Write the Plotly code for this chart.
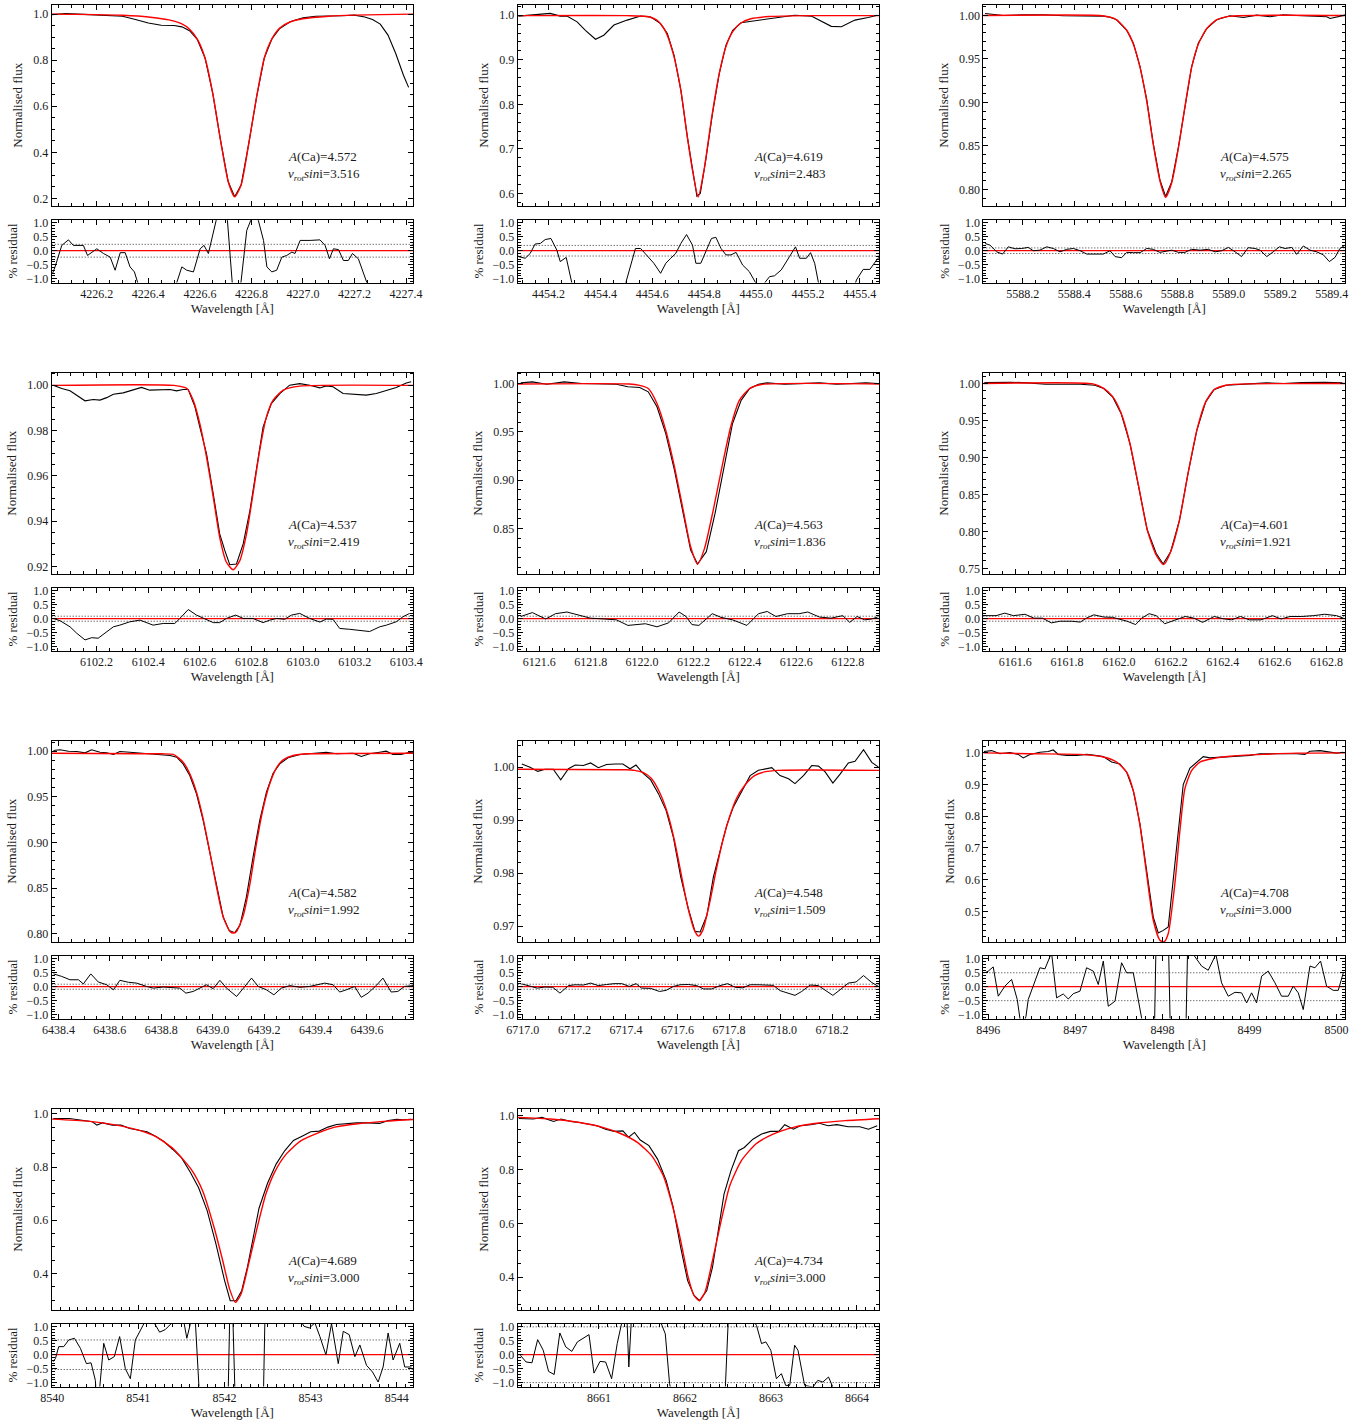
import plotly.graph_objects as go

# ---------------- data ----------------
# Panel 1 : Ca I 4226
P1_OBS = [(4226.025,0.998),(4226.08,1.003),(4226.15,0.999),(4226.25,0.993),(4226.30,0.991),(4226.35,0.977),
          (4226.40,0.962),(4226.45,0.952),(4226.50,0.951),(4226.53,0.945),(4226.56,0.928),(4226.59,0.890),
          (4226.62,0.810),(4226.65,0.656),(4226.68,0.453),(4226.71,0.272),(4226.735,0.207),(4226.76,0.258),
          (4226.79,0.440),(4226.82,0.640),(4226.85,0.810),(4226.88,0.894),(4226.91,0.938),(4226.95,0.967),
          (4227.00,0.984),(4227.05,0.991),(4227.10,0.991),(4227.15,0.993),(4227.20,0.996),(4227.24,0.988),
          (4227.27,0.977),(4227.30,0.957),(4227.33,0.909),(4227.36,0.829),(4227.39,0.735),(4227.41,0.682)]
P1_MOD = [(4226.025,1.0),(4226.2,0.998),(4226.3,0.995),(4226.4,0.988),(4226.48,0.975),(4226.53,0.958),
          (4226.56,0.935),(4226.59,0.892),(4226.62,0.81),(4226.65,0.656),(4226.68,0.453),(4226.71,0.272),
          (4226.735,0.207),(4226.76,0.258),(4226.79,0.44),(4226.82,0.64),(4226.85,0.81),(4226.88,0.894),
          (4226.91,0.94),(4226.95,0.966),(4227.0,0.98),(4227.1,0.991),(4227.2,0.996),(4227.3,0.998),(4227.427,1.0)]
P1_RES = [(4226.028,-0.82),(4226.038,-0.58),(4226.064,0.19),(4226.090,0.39),(4226.109,0.19),(4226.148,0.19),
          (4226.164,-0.17),(4226.200,0.07),(4226.226,-0.10),(4226.252,-0.23),(4226.271,-0.70),(4226.291,-0.07),
          (4226.310,-0.07),(4226.329,-0.58),(4226.346,-0.76),(4226.37,-1.6),(4226.42,-3.0),(4226.47,-3.5),
          (4226.50,-2.0),(4226.510,-1.15),(4226.530,-0.58),(4226.549,-0.70),(4226.575,-0.76),(4226.601,0.07),
          (4226.616,0.19),(4226.633,-0.10),(4226.650,0.60),(4226.663,1.08),(4226.68,2.5),(4226.70,1.5),
          (4226.707,1.08),(4226.726,-1.2),(4226.74,-3.0),(4226.759,-1.17),(4226.782,0.73),(4226.797,1.08),
          (4226.81,1.8),(4226.827,1.08),(4226.847,0.37),(4226.860,-0.58),(4226.879,-0.76),(4226.898,-0.70),
          (4226.918,-0.23),(4226.937,-0.17),(4226.957,-0.05),(4226.969,-0.10),(4226.989,0.37),(4227.028,0.37),
          (4227.066,0.39),(4227.086,0.19),(4227.103,-0.29),(4227.118,0.07),(4227.138,0.04),(4227.157,-0.35),
          (4227.176,-0.35),(4227.192,-0.10),(4227.215,-0.29),(4227.247,-1.12),(4227.28,-2.5),(4227.35,-8.0),
          (4227.43,-30.0)]

# Panel 2 : Ca I 4454
P2_OBS = [(4454.084,0.998),(4454.142,1.001),(4454.206,1.004),(4454.245,0.998),(4454.271,0.998),(4454.31,0.985),
          (4454.342,0.966),(4454.381,0.946),(4454.413,0.955),(4454.452,0.978),(4454.503,0.989),(4454.555,0.998),
          (4454.594,0.996),(4454.632,0.981),(4454.658,0.959),(4454.684,0.91),(4454.71,0.832),(4454.735,0.727),
          (4454.755,0.652),(4454.772,0.594),(4454.785,0.6),(4454.806,0.675),(4454.832,0.779),(4454.858,0.869),
          (4454.884,0.933),(4454.91,0.966),(4454.942,0.983),(4454.994,0.987),(4455.071,0.993),(4455.148,1.0),
          (4455.213,0.998),(4455.252,0.987),(4455.29,0.975),(4455.329,0.974),(4455.381,0.989),(4455.432,0.995),
          (4455.468,1.0)]
P2_MOD = [(4454.081,0.999),(4454.5,0.999),(4454.58,0.997),(4454.62,0.988),(4454.65,0.965),(4454.68,0.915),
          (4454.71,0.832),(4454.735,0.727),(4454.755,0.652),(4454.777,0.592),(4454.80,0.655),(4454.83,0.775),
          (4454.858,0.869),(4454.884,0.93),(4454.91,0.963),(4454.94,0.982),(4454.98,0.992),(4455.05,0.997),
          (4455.2,0.999),(4455.474,0.999)]
P2_RES = [(4454.084,-0.21),(4454.110,-0.27),(4454.129,-0.10),(4454.148,0.24),(4454.168,0.26),(4454.187,0.40),
          (4454.209,0.44),(4454.232,0.02),(4454.245,-0.39),(4454.268,-0.24),(4454.290,-1.17),(4454.33,-2.5),
          (4454.38,-5.0),(4454.43,-4.0),(4454.47,-2.0),(4454.499,-1.11),(4454.516,-0.57),(4454.535,0.08),
          (4454.555,0.08),(4454.581,-0.21),(4454.606,-0.45),(4454.632,-0.81),(4454.652,-0.45),(4454.671,-0.27),
          (4454.690,-0.10),(4454.710,0.26),(4454.732,0.58),(4454.755,0.20),(4454.768,-0.45),(4454.787,-0.45),
          (4454.806,-0.04),(4454.828,0.44),(4454.845,0.48),(4454.865,0.08),(4454.884,-0.15),(4454.903,-0.15),
          (4454.923,-0.06),(4454.948,-0.51),(4454.974,-0.75),(4454.994,-1.11),(4455.02,-1.5),(4455.035,-1.13),
          (4455.052,-0.93),(4455.071,-0.90),(4455.097,-0.69),(4455.129,-0.21),(4455.152,0.14),(4455.168,-0.27),
          (4455.194,-0.27),(4455.210,-0.07),(4455.226,-0.45),(4455.241,-1.17),(4455.29,-2.5),(4455.33,-2.8),
          (4455.37,-1.6),(4455.387,-1.05),(4455.413,-0.67),(4455.439,-0.67),(4455.465,-0.33),(4455.477,-0.21)]

# Panel 3 : Ca I 5588
P3_OBS = [(5588.054,1.0023),(5588.125,1.0),(5588.203,1.0008),(5588.28,1.0008),(5588.358,0.9996),(5588.436,0.9992),
          (5588.513,0.9992),(5588.539,0.998),(5588.565,0.995),(5588.604,0.983),(5588.63,0.968),(5588.656,0.941),
          (5588.682,0.903),(5588.707,0.853),(5588.733,0.811),(5588.755,0.792),(5588.779,0.809),(5588.805,0.849),
          (5588.83,0.895),(5588.856,0.941),(5588.882,0.968),(5588.915,0.985),(5588.953,0.995),(5589.005,0.9996),
          (5589.057,0.9977),(5589.109,1.0004),(5589.161,0.9985),(5589.212,1.0008),(5589.264,1.0),(5589.316,0.9992),
          (5589.381,0.9985),(5589.394,0.9966),(5589.426,0.9985),(5589.452,1.0004)]
P3_MOD = [(5588.047,1.0),(5588.5,1.0),(5588.54,0.998),(5588.565,0.995),(5588.604,0.983),(5588.63,0.967),
          (5588.656,0.94),(5588.682,0.901),(5588.707,0.852),(5588.733,0.810),(5588.755,0.791),(5588.779,0.808),
          (5588.805,0.848),(5588.83,0.895),(5588.856,0.94),(5588.882,0.967),(5588.915,0.985),(5588.953,0.995),
          (5589.0,0.999),(5589.453,1.0)]
P3_RES = [(5588.054,0.26),(5588.073,0.20),(5588.099,-0.04),(5588.122,-0.12),(5588.144,0.14),(5588.170,0.07),
          (5588.196,0.08),(5588.222,0.12),(5588.241,0.0),(5588.267,0.02),(5588.293,0.14),(5588.319,0.08),
          (5588.345,-0.04),(5588.371,0.05),(5588.397,0.08),(5588.423,0.0),(5588.449,-0.12),(5588.474,-0.12),
          (5588.513,-0.12),(5588.539,0.0),(5588.559,-0.21),(5588.584,-0.25),(5588.604,-0.06),(5588.630,-0.07),
          (5588.656,-0.07),(5588.682,0.08),(5588.707,0.05),(5588.733,-0.06),(5588.759,-0.02),(5588.779,0.02),
          (5588.805,-0.06),(5588.830,-0.06),(5588.856,0.05),(5588.889,0.02),(5588.921,0.05),(5588.947,-0.04),
          (5588.973,0.0),(5588.999,0.12),(5589.025,-0.04),(5589.050,-0.21),(5589.076,0.11),(5589.102,0.08),
          (5589.122,0.02),(5589.148,-0.21),(5589.173,-0.04),(5589.197,0.14),(5589.219,0.08),(5589.245,0.12),
          (5589.264,-0.13),(5589.290,0.17),(5589.316,0.02),(5589.342,-0.04),(5589.368,-0.15),(5589.391,-0.39),
          (5589.413,-0.24),(5589.432,0.08),(5589.452,0.2)]

# Panel 4 : Ca I 6102
P4_OBS = [(6102.032,1.0),(6102.065,0.9985),(6102.097,0.9975),(6102.123,0.9956),(6102.155,0.9931),(6102.187,0.9937),
          (6102.213,0.9934),(6102.239,0.9945),(6102.265,0.9960),(6102.303,0.9966),(6102.342,0.9981),(6102.374,0.9990),
          (6102.406,0.9978),(6102.445,0.9978),(6102.484,0.9981),(6102.510,0.9975),(6102.535,0.9981),(6102.555,0.9981),
          (6102.581,0.9904),(6102.600,0.9815),(6102.626,0.9697),(6102.652,0.9520),(6102.677,0.9343),(6102.697,0.9269),
          (6102.716,0.9207),(6102.742,0.9210),(6102.768,0.9299),(6102.794,0.9446),(6102.819,0.9624),(6102.845,0.9815),
          (6102.877,0.9919),(6102.910,0.9963),(6102.948,1.0),(6102.987,1.0007),(6103.026,1.0),(6103.065,0.9988),
          (6103.090,0.9997),(6103.116,0.9993),(6103.155,0.9963),(6103.194,0.9960),(6103.245,0.9956),(6103.284,0.9963),
          (6103.323,0.9978),(6103.361,0.9990),(6103.400,1.0010),(6103.419,1.0015)]
P4_MOD = [(6102.026,0.9999),(6102.5,0.9999),(6102.55,0.9985),(6102.574,0.9934),(6102.6,0.9830),(6102.626,0.9682),
          (6102.652,0.9506),(6102.677,0.9328),(6102.703,0.9218),(6102.729,0.9185),(6102.755,0.9225),(6102.781,0.9343),
          (6102.806,0.9520),(6102.832,0.9712),(6102.858,0.9860),(6102.884,0.9934),(6102.923,0.9978),(6102.987,0.9996),
          (6103.426,0.9999)]
P4_RES = [(6102.032,0.01),(6102.058,-0.07),(6102.097,-0.29),(6102.123,-0.52),(6102.155,-0.76),(6102.181,-0.68),
          (6102.206,-0.70),(6102.239,-0.46),(6102.265,-0.29),(6102.290,-0.23),(6102.329,-0.11),(6102.368,-0.05),
          (6102.394,-0.14),(6102.419,-0.23),(6102.458,-0.17),(6102.503,-0.17),(6102.529,0.07),(6102.555,0.33),
          (6102.587,0.13),(6102.619,0.01),(6102.652,-0.14),(6102.677,-0.14),(6102.703,0.01),(6102.739,0.13),
          (6102.768,0.01),(6102.806,0.01),(6102.845,-0.14),(6102.871,-0.05),(6102.897,0.01),(6102.929,-0.02),
          (6102.955,0.13),(6102.987,0.19),(6103.026,0.01),(6103.065,-0.12),(6103.090,-0.01),(6103.116,-0.02),
          (6103.142,-0.35),(6103.181,-0.38),(6103.219,-0.43),(6103.258,-0.46),(6103.297,-0.29),(6103.323,-0.23),
          (6103.361,-0.11),(6103.387,0.07),(6103.413,0.19)]

# Panel 5 : Ca I 6122
P5_OBS = [(6121.528,1.0007),(6121.573,1.0017),(6121.629,0.9993),(6121.697,1.0017),(6121.765,1.0),(6121.833,1.0),
          (6121.900,0.9993),(6121.945,0.9966),(6121.991,0.9959),(6122.024,0.9914),(6122.058,0.9759),(6122.092,0.9483),
          (6122.126,0.9103),(6122.160,0.8655),(6122.189,0.8276),(6122.216,0.8131),(6122.250,0.8259),(6122.284,0.8655),
          (6122.318,0.9138),(6122.352,0.9586),(6122.386,0.9828),(6122.419,0.9948),(6122.453,0.9993),(6122.487,1.0007),
          (6122.555,0.9993),(6122.623,1.0),(6122.690,1.0007),(6122.758,0.9993),(6122.826,1.0),(6122.871,1.0007),
          (6122.916,1.0)]
P5_MOD = [(6121.516,0.9995),(6121.95,0.9995),(6121.99,0.998),(6122.024,0.9948),(6122.058,0.9793),(6122.092,0.9517),
          (6122.126,0.9138),(6122.160,0.8690),(6122.189,0.8310),(6122.216,0.8131),(6122.243,0.8293),(6122.277,0.8690),
          (6122.311,0.9138),(6122.345,0.9552),(6122.379,0.9828),(6122.419,0.9948),(6122.464,0.9990),(6122.922,0.9995)]
P5_RES = [(6121.528,0.08),(6121.573,0.22),(6121.625,-0.01),(6121.663,0.18),(6121.708,0.24),(6121.753,0.14),
          (6121.799,0.02),(6121.855,-0.01),(6121.900,-0.04),(6121.945,-0.24),(6121.979,-0.21),(6122.013,-0.18),
          (6122.058,-0.29),(6122.103,-0.15),(6122.144,0.24),(6122.171,0.08),(6122.194,-0.21),(6122.221,-0.24),
          (6122.273,0.18),(6122.307,0.05),(6122.352,-0.04),(6122.408,-0.24),(6122.453,0.18),(6122.487,0.26),
          (6122.521,0.08),(6122.566,0.18),(6122.611,0.18),(6122.645,0.24),(6122.690,0.06),(6122.735,0.02),
          (6122.781,0.11),(6122.808,-0.13),(6122.837,0.08),(6122.866,-0.04),(6122.893,-0.01),(6122.916,0.06)]

# Panel 6 : Ca I 6162
P6_OBS = [(6161.481,1.0014),(6161.582,1.0018),(6161.649,1.0009),(6161.717,0.9991),(6161.784,0.9991),(6161.851,0.9991),
          (6161.907,0.9977),(6161.941,0.9932),(6161.975,0.9820),(6162.008,0.9595),(6162.042,0.9189),(6162.076,0.8604),
          (6162.109,0.8018),(6162.143,0.7703),(6162.170,0.7559),(6162.199,0.7725),(6162.233,0.8153),(6162.266,0.8784),
          (6162.300,0.9369),(6162.334,0.9752),(6162.367,0.9919),(6162.412,0.9977),(6162.479,0.9991),(6162.569,1.0009),
          (6162.636,1.0),(6162.704,1.0014),(6162.793,1.0018),(6162.861,1.0009)]
P6_MOD = [(6161.477,1.0),(6161.9,0.9995),(6161.941,0.9935),(6161.975,0.9825),(6162.008,0.9600),(6162.042,0.9189),
          (6162.076,0.8604),(6162.109,0.8018),(6162.143,0.7680),(6162.172,0.7550),(6162.199,0.7725),(6162.233,0.8153),
          (6162.266,0.8784),(6162.300,0.9369),(6162.334,0.9752),(6162.367,0.9919),(6162.412,0.9977),(6162.5,0.9995),
          (6162.872,1.0)]
P6_RES = [(6161.481,0.11),(6161.526,0.11),(6161.560,0.20),(6161.593,0.11),(6161.638,0.16),(6161.672,0.02),
          (6161.705,0.02),(6161.739,-0.15),(6161.773,-0.09),(6161.818,-0.09),(6161.851,-0.12),(6161.874,0.02),
          (6161.903,0.14),(6161.941,0.06),(6161.975,0.05),(6162.008,-0.04),(6162.031,-0.09),(6162.064,-0.21),
          (6162.087,0.02),(6162.116,0.18),(6162.143,0.11),(6162.176,-0.18),(6162.210,-0.07),(6162.255,0.08),
          (6162.289,0.02),(6162.322,-0.13),(6162.367,0.08),(6162.401,0.0),(6162.434,-0.04),(6162.468,0.08),
          (6162.502,-0.04),(6162.547,-0.04),(6162.591,0.11),(6162.625,-0.01),(6162.659,0.08),(6162.704,0.08),
          (6162.749,0.11),(6162.793,0.16),(6162.838,0.11),(6162.865,0.02)]

# Panel 7 : Ca I 6439
P7_OBS = [(6438.381,1.0007),(6438.406,1.0015),(6438.439,1.0),(6438.471,0.9996),(6438.504,0.9982),(6438.529,1.0015),
          (6438.562,0.9989),(6438.588,0.9982),(6438.614,0.9964),(6438.639,0.9996),(6438.678,0.9989),(6438.717,0.9978),
          (6438.756,0.9971),(6438.795,0.9964),(6438.834,0.9953),(6438.860,0.9934),(6438.885,0.9861),(6438.911,0.9734),
          (6438.937,0.9533),(6438.963,0.9241),(6438.989,0.8876),(6439.015,0.8511),(6439.041,0.8182),(6439.064,0.8036),
          (6439.086,0.8011),(6439.106,0.8091),(6439.131,0.8401),(6439.157,0.8839),(6439.183,0.9241),(6439.209,0.9551),
          (6439.235,0.9759),(6439.261,0.9861),(6439.293,0.9927),(6439.339,0.9964),(6439.390,0.9978),(6439.442,0.9989),
          (6439.481,0.9971),(6439.520,0.9971),(6439.546,0.9978),(6439.578,0.9942),(6439.610,0.9971),(6439.649,0.9989),
          (6439.675,1.0),(6439.701,0.9964),(6439.733,0.9964),(6439.759,0.9982),(6439.779,0.9989)]
P7_MOD = [(6438.374,0.9978),(6438.8,0.9971),(6438.847,0.9964),(6438.885,0.9880),(6438.911,0.9752),(6438.937,0.9551),
          (6438.963,0.9259),(6438.989,0.8894),(6439.015,0.8511),(6439.041,0.8182),(6439.067,0.8025),(6439.080,0.8007),
          (6439.093,0.8025),(6439.119,0.8200),(6439.145,0.8547),(6439.170,0.8985),(6439.196,0.9369),(6439.222,0.9642),
          (6439.248,0.9818),(6439.274,0.9905),(6439.313,0.9953),(6439.378,0.9971),(6439.779,0.9978)]
P7_RES = [(6438.381,0.46),(6438.413,0.37),(6438.445,0.25),(6438.478,0.25),(6438.497,0.10),(6438.526,0.46),
          (6438.555,0.17),(6438.588,0.07),(6438.614,-0.11),(6438.639,0.23),(6438.672,0.16),(6438.704,0.13),
          (6438.743,0.01),(6438.769,-0.05),(6438.808,-0.01),(6438.847,-0.05),(6438.872,-0.05),(6438.896,-0.23),
          (6438.924,-0.17),(6438.950,-0.05),(6438.976,0.07),(6439.002,-0.07),(6439.028,0.23),(6439.054,-0.05),
          (6439.093,-0.35),(6439.125,0.01),(6439.151,0.31),(6439.177,0.01),(6439.209,-0.11),(6439.238,-0.29),
          (6439.267,-0.05),(6439.300,0.04),(6439.339,-0.02),(6439.377,0.01),(6439.403,0.07),(6439.436,0.13),
          (6439.468,0.07),(6439.494,-0.19),(6439.520,-0.11),(6439.552,0.01),(6439.578,-0.38),(6439.604,-0.23),
          (6439.636,0.04),(6439.662,0.31),(6439.694,-0.19),(6439.720,-0.17),(6439.746,0.01),(6439.779,0.04)]

# Panel 8 : Ca I 6717
P8_OBS = [(6716.996,1.0006),(6717.028,1.0),(6717.058,0.9992),(6717.086,0.9996),(6717.118,0.9996),(6717.147,0.9976),
          (6717.177,0.9997),(6717.203,1.0004),(6717.235,1.0003),(6717.263,1.0008),(6717.293,0.9999),(6717.325,1.0005),
          (6717.358,1.0006),(6717.388,1.0006),(6717.416,0.9997),(6717.439,1.0004),(6717.465,0.9989),(6717.496,0.9976),
          (6717.526,0.9950),(6717.556,0.9918),(6717.584,0.9868),(6717.613,0.9792),(6717.642,0.9733),(6717.668,0.9690),
          (6717.688,0.9689),(6717.714,0.9720),(6717.739,0.9792),(6717.765,0.9843),(6717.791,0.9890),(6717.817,0.9925),
          (6717.849,0.9953),(6717.882,0.9984),(6717.914,0.9994),(6717.946,0.9997),(6717.966,0.9999),(6717.998,0.9984),
          (6718.031,0.9978),(6718.056,0.9969),(6718.089,0.9984),(6718.121,1.0003),(6718.147,1.0002),(6718.173,0.9991),
          (6718.203,0.9970),(6718.231,0.9987),(6718.263,1.0008),(6718.289,1.0011),(6718.322,1.0033),(6718.354,1.0009),
          (6718.380,1.0)]
P8_MOD = [(6716.98,0.9996),(6717.4,0.9995),(6717.433,0.9994),(6717.466,0.9990),(6717.498,0.9979),(6717.530,0.9953),
          (6717.562,0.9912),(6717.588,0.9862),(6717.614,0.9799),(6717.640,0.9736),(6717.666,0.9692),(6717.682,0.9681),
          (6717.698,0.9692),(6717.724,0.9742),(6717.750,0.9805),(6717.776,0.9862),(6717.802,0.9906),(6717.828,0.9940),
          (6717.860,0.9965),(6717.899,0.9984),(6717.938,0.9991),(6717.990,0.9994),(6718.382,0.9994)]
P8_RES = [(6716.996,0.10),(6717.021,0.04),(6717.056,-0.05),(6717.086,-0.01),(6717.116,-0.02),(6717.144,-0.23),
          (6717.177,0.04),(6717.203,0.07),(6717.235,0.06),(6717.263,0.13),(6717.293,0.04),(6717.325,0.08),
          (6717.354,0.11),(6717.384,0.11),(6717.413,0.01),(6717.439,0.11),(6717.461,-0.05),(6717.496,-0.06),
          (6717.530,-0.17),(6717.556,-0.13),(6717.584,0.01),(6717.610,0.07),(6717.642,0.08),(6717.675,0.04),
          (6717.701,-0.08),(6717.733,-0.08),(6717.765,0.04),(6717.795,0.11),(6717.824,-0.02),(6717.853,-0.04),
          (6717.882,0.07),(6717.914,0.07),(6717.946,0.05),(6717.972,0.05),(6717.998,-0.14),(6718.031,-0.23),
          (6718.056,-0.31),(6718.082,-0.17),(6718.115,0.06),(6718.147,0.04),(6718.173,-0.11),(6718.203,-0.31),
          (6718.231,-0.11),(6718.263,0.13),(6718.293,0.17),(6718.322,0.40),(6718.354,0.15),(6718.380,0.01)]

# Panel 9 : Ca II 8498
P9_OBS = [(8495.950,1.004),(8496.038,1.007),(8496.134,0.997),(8496.249,1.001),(8496.344,0.995),(8496.402,0.984),
          (8496.478,0.995),(8496.593,1.002),(8496.689,1.004),(8496.746,1.009),(8496.804,0.995),(8496.900,0.992),
          (8497.014,0.992),(8497.129,0.995),(8497.225,0.992),(8497.321,0.988),(8497.416,0.971),(8497.512,0.965),
          (8497.589,0.939),(8497.665,0.881),(8497.742,0.776),(8497.818,0.629),(8497.895,0.482),(8497.952,0.432),
          (8498.010,0.440),(8498.067,0.451),(8498.124,0.600),(8498.182,0.765),(8498.239,0.900),(8498.316,0.952),
          (8498.392,0.971),(8498.469,0.988),(8498.545,0.984),(8498.660,0.986),(8498.775,0.989),(8498.890,0.989),
          (8499.005,0.992),(8499.120,0.997),(8499.234,0.997),(8499.349,0.997),(8499.426,0.999),(8499.541,0.997),
          (8499.636,0.995),(8499.694,1.005),(8499.809,1.007),(8499.923,1.002),(8500.000,0.999),(8500.077,1.002)]
P9_MOD = [(8495.943,1.0),(8496.478,0.997),(8497.052,0.995),(8497.321,0.987),(8497.474,0.971),(8497.589,0.939),
          (8497.665,0.881),(8497.742,0.771),(8497.818,0.619),(8497.895,0.472),(8497.971,0.409),(8498.02,0.404),
          (8498.067,0.430),(8498.143,0.588),(8498.201,0.755),(8498.258,0.887),(8498.335,0.944),(8498.431,0.971),
          (8498.584,0.982),(8498.775,0.989),(8499.158,0.995),(8499.541,0.999),(8500.1,1.0)]
P9_RES = [(8495.962,0.50),(8496.000,0.56),(8496.057,0.71),(8496.115,-0.34),(8496.191,0.02),(8496.268,0.26),
          (8496.333,-0.46),(8496.371,-1.30),(8496.402,-1.42),(8496.433,-1.06),(8496.459,-0.46),(8496.517,0.02),
          (8496.593,0.68),(8496.651,0.64),(8496.716,1.16),(8496.727,1.22),(8496.785,-0.40),(8496.861,-0.26),
          (8496.919,-0.44),(8496.976,-0.25),(8497.053,-0.16),(8497.129,0.68),(8497.206,0.56),(8497.263,0.08),
          (8497.321,0.92),(8497.378,-0.70),(8497.455,-0.52),(8497.531,0.86),(8497.589,0.50),(8497.665,0.50),
          (8497.761,-1.12),(8497.80,-2.0),(8497.87,-4.0),(8497.90,-3.0),(8497.935,3.0),(8498.01,6.0),
          (8498.06,3.0),(8498.10,-3.0),(8498.18,-4.0),(8498.26,-3.0),(8498.30,3.0),(8498.354,1.16),
          (8498.392,0.98),(8498.450,0.74),(8498.526,0.59),(8498.614,1.16),(8498.679,0.14),(8498.756,-0.34),
          (8498.833,-0.20),(8498.909,-0.22),(8498.967,-0.58),(8499.024,-0.22),(8499.081,-0.58),(8499.139,0.38),
          (8499.215,0.56),(8499.292,0.14),(8499.368,-0.34),(8499.445,-0.34),(8499.502,0.02),(8499.560,-0.22),
          (8499.617,-0.82),(8499.694,0.74),(8499.751,0.68),(8499.816,0.92),(8499.885,0.02),(8499.962,-0.13),
          (8500.019,-0.13),(8500.077,0.50)]

# Panel 10 : Ca II 8542
P10_OBS = [(8540.013,0.9825),(8540.200,0.9825),(8540.367,0.975),(8540.467,0.97),(8540.520,0.9575),(8540.587,0.966),
           (8540.700,0.9575),(8540.801,0.9575),(8540.901,0.945),(8541.001,0.9375),(8541.101,0.9325),(8541.201,0.916),
           (8541.301,0.895),(8541.401,0.866),(8541.501,0.835),(8541.601,0.782),(8541.701,0.722),(8541.801,0.635),
           (8541.901,0.512),(8542.001,0.375),(8542.068,0.2975),(8542.135,0.2975),(8542.201,0.335),(8542.268,0.425),
           (8542.335,0.540),(8542.402,0.645),(8542.502,0.740),(8542.602,0.812),(8542.702,0.862),(8542.802,0.90),
           (8542.902,0.916),(8543.002,0.9325),(8543.102,0.935),(8543.202,0.95),(8543.302,0.96),(8543.402,0.9625),
           (8543.536,0.966),(8543.669,0.966),(8543.803,0.964),(8543.903,0.975),(8544.003,0.979),(8544.069,0.9775),
           (8544.169,0.979)]
P10_MOD = [(8540.0,0.98),(8540.414,0.9725),(8540.747,0.9575),(8541.014,0.9375),(8541.214,0.9125),(8541.414,0.866),
           (8541.615,0.791),(8541.748,0.71),(8541.881,0.5725),(8541.981,0.4475),(8542.061,0.341),(8542.128,0.291),
           (8542.194,0.3225),(8542.281,0.435),(8542.381,0.5725),(8542.481,0.6975),(8542.581,0.779),(8542.715,0.8475),
           (8542.882,0.8975),(8543.082,0.9275),(8543.282,0.95),(8543.549,0.9625),(8543.883,0.9725),(8544.19,0.9787)]
P10_RES = [(8540.012,-0.25),(8540.039,-0.13),(8540.077,0.29),(8540.135,0.29),(8540.193,0.53),(8540.259,0.59),
           (8540.328,0.23),(8540.398,-0.32),(8540.452,-0.29),(8540.502,-0.92),(8540.514,-1.5),(8540.552,-1.2),
           (8540.599,0.41),(8540.657,-0.19),(8540.722,-0.07),(8540.784,0.65),(8540.850,-0.50),(8540.908,-0.86),
           (8540.966,0.53),(8541.024,0.84),(8541.070,1.14),(8541.139,1.3),(8541.197,1.08),(8541.248,0.81),
           (8541.313,0.90),(8541.390,1.14),(8541.448,1.4),(8541.533,1.12),(8541.564,0.59),(8541.603,1.08),
           (8541.661,1.3),(8541.711,-1.5),(8541.80,-4.0),(8541.95,-8.0),(8542.04,-2.0),(8542.066,2.0),
           (8542.097,1.5),(8542.124,-1.5),(8542.2,-6.0),(8542.35,-5.0),(8542.45,-2.0),(8542.472,1.5),
           (8542.6,3.0),(8542.8,2.0),(8542.878,1.26),(8542.924,1.02),(8542.986,0.96),(8543.051,1.14),
           (8543.109,0.65),(8543.179,-0.01),(8543.244,1.12),(8543.322,-0.32),(8543.380,0.84),(8543.449,0.72),
           (8543.515,-0.07),(8543.573,0.35),(8543.650,-0.38),(8543.720,-0.62),(8543.785,-0.98),(8543.843,-0.44),
           (8543.901,0.78),(8543.959,-0.19),(8544.036,0.41),(8544.094,-0.44),(8544.172,-0.44)]

# Panel 11 : Ca II 8662
P11_OBS = [(8660.068,0.990),(8660.236,0.988),(8660.337,0.994),(8660.472,0.979),(8660.559,0.988),(8660.673,0.979),
           (8660.774,0.975),(8660.875,0.969),(8660.976,0.963),(8661.076,0.950),(8661.177,0.942),(8661.278,0.944),
           (8661.345,0.920),(8661.413,0.938),(8661.480,0.910),(8661.581,0.889),(8661.681,0.839),(8661.782,0.759),
           (8661.863,0.660),(8661.950,0.511),(8662.031,0.387),(8662.105,0.332),(8662.172,0.313),(8662.253,0.350),
           (8662.320,0.437),(8662.387,0.573),(8662.454,0.709),(8662.535,0.796),(8662.622,0.870),(8662.690,0.882),
           (8662.790,0.913),(8662.891,0.932),(8662.992,0.942),(8663.093,0.942),(8663.160,0.967),(8663.261,0.950),
           (8663.341,0.963),(8663.462,0.967),(8663.563,0.972),(8663.664,0.963),(8663.765,0.967),(8663.899,0.959),
           (8664.033,0.959),(8664.134,0.950),(8664.235,0.963)]
P11_MOD = [(8660.055,0.994),(8660.438,0.988),(8660.774,0.975),(8661.043,0.957),(8661.244,0.935),(8661.446,0.901),
           (8661.614,0.851),(8661.748,0.777),(8661.849,0.672),(8661.950,0.536),(8662.037,0.400),(8662.105,0.332),
           (8662.165,0.313),(8662.232,0.344),(8662.320,0.462),(8662.421,0.610),(8662.521,0.740),(8662.656,0.833),
           (8662.824,0.895),(8663.025,0.932),(8663.261,0.957),(8663.530,0.972),(8663.866,0.982),(8664.256,0.989)]
P11_RES = [(8660.086,-0.02),(8660.152,-0.26),(8660.221,-0.29),(8660.287,0.54),(8660.352,0.16),(8660.414,-0.60),
           (8660.479,-0.71),(8660.545,0.78),(8660.614,0.28),(8660.684,0.12),(8660.749,0.46),(8660.819,0.61),
           (8660.884,0.72),(8660.942,-0.66),(8661.012,-0.24),(8661.077,-0.26),(8661.147,-0.86),(8661.212,0.40),
           (8661.270,1.11),(8661.297,1.6),(8661.328,1.11),(8661.347,-0.44),(8661.374,1.11),(8661.405,1.8),
           (8661.55,2.5),(8661.713,1.23),(8661.771,0.75),(8661.821,-1.04),(8661.9,-3.0),(8662.1,-5.0),
           (8662.3,-3.0),(8662.465,-1.5),(8662.504,1.3),(8662.7,2.5),(8662.793,1.23),(8662.832,1.05),
           (8662.890,0.40),(8662.940,0.46),(8662.998,0.16),(8663.063,-0.86),(8663.121,-0.68),(8663.171,-1.10),
           (8663.218,-1.10),(8663.275,0.34),(8663.314,0.16),(8663.353,-0.44),(8663.391,-1.10),(8663.487,-1.16),
           (8663.545,-0.92),(8663.603,-0.98),(8663.669,-0.80),(8663.719,-1.16),(8663.9,-2.0),(8664.25,-3.0)]

# residual scatter level (dotted lines, in %)
SIGMA = [0.23, 0.19, 0.10, 0.09, 0.09, 0.09, 0.09, 0.09, 0.50, 0.53, 1.00]
# fitted abundances and rotational velocities
ABUND = ["4.572", "4.619", "4.575", "4.537", "4.563", "4.601", "4.582", "4.548", "4.708", "4.689", "4.734"]
VSINI = ["3.516", "2.483", "2.265", "2.419", "1.836", "1.921", "1.992", "1.509", "3.000", "3.000", "3.000"]
# axis ranges
X_RANGES = [(4226.025, 4227.427), (4454.081, 4455.474), (5588.047, 5589.453), (6102.026, 6103.426),
            (6121.516, 6122.922), (6161.477, 6162.872), (6438.374, 6439.779), (6716.98, 6718.382),
            (8495.943, 8500.10), (8539.995, 8544.19), (8660.055, 8664.256)]
Y_RANGES = [(0.167, 1.042), (0.572, 1.024), (0.781, 1.0126), (0.9166, 1.0056), (0.8028, 1.0114),
            (0.7423, 1.0149), (0.7909, 1.0117), (0.967, 1.00503), (0.4034, 1.0389), (0.2625, 1.02),
            (0.278, 1.027)]
Y_DTICK = [0.2, 0.1, 0.05, 0.02, 0.05, 0.05, 0.05, 0.01, 0.1, 0.2, 0.2]
Y_MINOR = [0.05, 0.02, 0.01, 0.005, 0.01, 0.01, 0.01, 0.002, 0.02, 0.05, 0.05]
Y_FMT = [".1f", ".1f", ".2f", ".2f", ".2f", ".2f", ".2f", ".2f", ".1f", ".1f", ".1f"]
X_DTICK = [0.2] * 8 + [1.0] * 3
X_MINOR = [0.05] * 8 + [0.1] * 3
X_FMT = [".1f"] * 8 + ["d"] * 3
RES_RANGE = (-1.14, 1.12)

OBS = [P1_OBS, P2_OBS, P3_OBS, P4_OBS, P5_OBS, P6_OBS, P7_OBS, P8_OBS, P9_OBS, P10_OBS, P11_OBS]
MOD = [P1_MOD, P2_MOD, P3_MOD, P4_MOD, P5_MOD, P6_MOD, P7_MOD, P8_MOD, P9_MOD, P10_MOD, P11_MOD]
RES = [P1_RES, P2_RES, P3_RES, P4_RES, P5_RES, P6_RES, P7_RES, P8_RES, P9_RES, P10_RES, P11_RES]

# ---------------- layout geometry (pixels) ----------------
W, H = 1370, 1425
FONT = "Liberation Serif"
TXT = "#1a1a1a"
COLS = [(51.7, 413.0), (517.7, 879.0), (983.3, 1345.3)]
ROW_PITCH = 368.0
MAIN_TOP, MAIN_BOT, RES_TOP, RES_BOT = 4.5, 206.0, 219.5, 282.5


def ydom(top, bot):
    return [1 - bot / H, 1 - top / H]


fig = go.Figure()
layout = dict(width=W, height=H, margin=dict(l=0, r=0, t=0, b=0), paper_bgcolor="white",
              plot_bgcolor="white", showlegend=False, font=dict(family=FONT, size=12, color=TXT))
shapes, annotations = [], []

axis_common = dict(showline=True, linecolor="black", linewidth=1, mirror="allticks", ticks="inside",
                   ticklen=5, tickwidth=1, tickcolor="black", showgrid=False, zeroline=False,
                   automargin=False, tickfont=dict(family=FONT, size=12, color=TXT))

for i in range(11):
    r, c = divmod(i, 3)
    m, s = 2 * i + 1, 2 * i + 2
    xm = "x" if m == 1 else f"x{m}"
    ym = "y" if m == 1 else f"y{m}"
    xs, ys = f"x{s}", f"y{s}"
    off = r * ROW_PITCH
    xd = [COLS[c][0] / W, COLS[c][1] / W]

    ox, oy = zip(*OBS[i])
    mx, my = zip(*MOD[i])
    rx, ry = zip(*RES[i])
    fig.add_trace(go.Scatter(x=ox, y=oy, mode="lines", line=dict(color="black", width=1.1),
                             xaxis=xm, yaxis=ym, hoverinfo="skip"))
    fig.add_trace(go.Scatter(x=mx, y=my, mode="lines", line=dict(color="#ff0000", width=1.4,
                             shape="spline", smoothing=0.6), xaxis=xm, yaxis=ym, hoverinfo="skip"))
    fig.add_trace(go.Scatter(x=rx, y=ry, mode="lines", line=dict(color="black", width=1.0),
                             xaxis=xs, yaxis=ys, hoverinfo="skip"))

    xr = list(X_RANGES[i])
    xa = dict(axis_common, domain=xd, range=xr, dtick=X_DTICK[i], tick0=0, tickformat=X_FMT[i],
              minor=dict(ticks="inside", ticklen=3, dtick=X_MINOR[i], tick0=0, tickcolor="black"))
    layout["xaxis" if m == 1 else f"xaxis{m}"] = dict(xa, anchor=ym, showticklabels=False)
    layout[f"xaxis{s}"] = dict(xa, anchor=ys, showticklabels=True,
                               title=dict(text="Wavelength [Å]", font=dict(family=FONT, size=13, color=TXT),
                                          standoff=1))
    layout["yaxis" if m == 1 else f"yaxis{m}"] = dict(
        axis_common, domain=ydom(MAIN_TOP + off, MAIN_BOT + off), anchor=xm, range=list(Y_RANGES[i]),
        dtick=Y_DTICK[i], tick0=0, tickformat=Y_FMT[i],
        minor=dict(ticks="inside", ticklen=3, dtick=Y_MINOR[i], tick0=0, tickcolor="black"),
        title=dict(text="Normalised flux", font=dict(family=FONT, size=13, color=TXT), standoff=7))
    layout[f"yaxis{s}"] = dict(
        axis_common, domain=ydom(RES_TOP + off, RES_BOT + off), anchor=xs, range=list(RES_RANGE),
        dtick=0.5, tick0=0, tickformat=".1f",
        minor=dict(ticks="inside", ticklen=3, dtick=0.1, tick0=0, tickcolor="black"),
        title=dict(text="% residual", font=dict(family=FONT, size=13, color=TXT), standoff=5))

    # reference lines in residual panel
    for sg in (SIGMA[i], -SIGMA[i]):
        shapes.append(dict(type="line", xref=f"{xs} domain", yref=ys, x0=0, x1=1, y0=sg, y1=sg,
                           line=dict(color="#333333", width=1, dash="1px,2px"), layer="below"))
    shapes.append(dict(type="line", xref=f"{xs} domain", yref=ys, x0=0, x1=1, y0=0, y1=0,
                       line=dict(color="#ff0000", width=1.2), layer="below"))

    annotations.append(dict(xref=f"{xm} domain", yref=f"{ym} domain", x=0.648, y=0.248,
                            xanchor="left", yanchor="middle", showarrow=False,
                            text=f"<i>A</i>(Ca)={ABUND[i]}", font=dict(family=FONT, size=13, color=TXT)))
    annotations.append(dict(xref=f"{xm} domain", yref=f"{ym} domain", x=0.648, y=0.154,
                            xanchor="left", yanchor="middle", showarrow=False,
                            text=f"<i>v</i><sub><i>rot</i></sub><i>sin</i>i={VSINI[i]}",
                            font=dict(family=FONT, size=13, color=TXT)))

layout["shapes"] = shapes
layout["annotations"] = annotations
fig.update_layout(**layout)
fig.write_html("out.html", config={"displayModeBar": False},
               post_script="document.body.style.margin='0';document.body.style.padding='0';")
